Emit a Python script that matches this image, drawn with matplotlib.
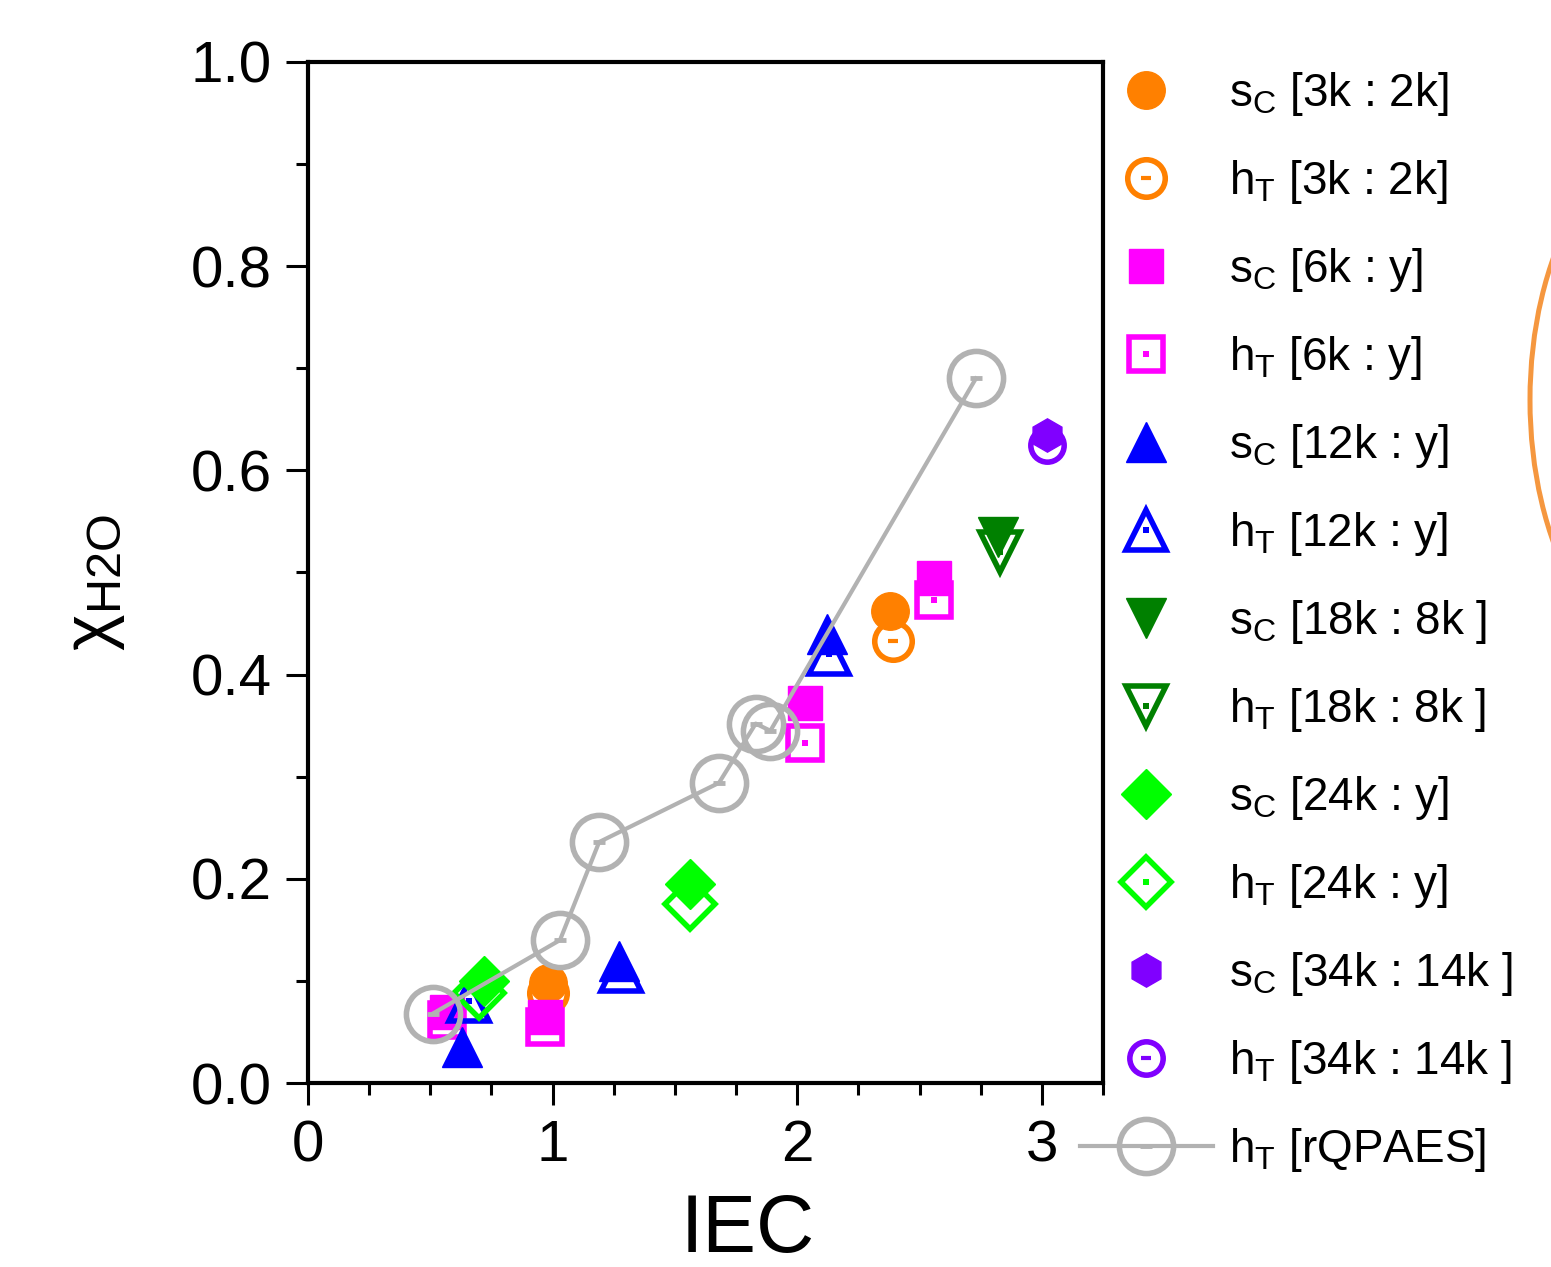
import matplotlib
matplotlib.use("Agg")
import matplotlib.pyplot as plt
from matplotlib.legend_handler import HandlerTuple
from matplotlib.patches import Ellipse

plt.rcParams["font.family"] = ["Liberation Sans", "DejaVu Sans"]
plt.rcParams["mathtext.fontset"] = "custom"
plt.rcParams["mathtext.rm"] = "Liberation Sans"
plt.rcParams["mathtext.it"] = "Liberation Sans:italic"

# data (IEC vs water fraction)
x_sc_3k = [0.98, 2.38]
y_sc_3k = [0.098, 0.462]
x_ht_3k = [0.98, 2.39]
y_ht_3k = [0.088, 0.433]

x_sc_6k = [0.57, 0.97, 2.03, 2.56]
y_sc_6k = [0.070, 0.065, 0.372, 0.495]
x_ht_6k = [0.57, 0.97, 2.03, 2.56]
y_ht_6k = [0.062, 0.055, 0.333, 0.473]

x_sc_12k = [0.63, 1.27, 2.12]
y_sc_12k = [0.035, 0.120, 0.440]
x_ht_12k = [0.66, 1.28, 2.13]
y_ht_12k = [0.080, 0.110, 0.420]

x_sc_18k = [2.82]
y_sc_18k = [0.535]
x_ht_18k = [2.83]
y_ht_18k = [0.520]

x_sc_24k = [0.72, 1.56]
y_sc_24k = [0.100, 0.195]
x_ht_24k = [0.70, 1.56]
y_ht_24k = [0.088, 0.175]

x_sc_34k = [3.02]
y_sc_34k = [0.635]
x_ht_34k = [3.02]
y_ht_34k = [0.625]

x_rq = [0.51, 1.03, 1.19, 1.68, 1.83, 1.89, 2.73]
y_rq = [0.068, 0.140, 0.236, 0.294, 0.352, 0.345, 0.690]

labels = ["[3k : 2k]", "[6k : y]", "[12k : y]", "[18k : 8k ]", "[24k : y]", "[34k : 14k ]"]
colors = ["#FF8000", "#FF00FF", "#0000FF", "#008000", "#00FF00", "#8000FF"]

fig = plt.figure(figsize=(15.51, 12.67), dpi=100)
ax = fig.add_axes([0.1986, 0.1452, 0.5126, 0.8059])

groups = [
    (x_sc_3k, y_sc_3k, x_ht_3k, y_ht_3k, "o", "o", 27),
    (x_sc_6k, y_sc_6k, x_ht_6k, y_ht_6k, "s", "s", 24),
    (x_sc_12k, y_sc_12k, x_ht_12k, y_ht_12k, "^", "^", 29),
    (x_sc_18k, y_sc_18k, x_ht_18k, y_ht_18k, "v", "v", 29),
    (x_sc_24k, y_sc_24k, x_ht_24k, y_ht_24k, "D", "D", 25),
    (x_sc_34k, y_sc_34k, x_ht_34k, y_ht_34k, "h", "o", 24),
]

handles = []
names = []
for (xs, ys, xh, yh, mf, mh, ms), col, lab in zip(groups, colors, labels):
    filled, = ax.plot(xs, ys, ls="none", marker=mf, ms=ms, color=col, mec=col)
    hollow, = ax.plot(xh, yh, ls="none", marker=mh, ms=ms, mfc="none", mec=col, mew=4)
    if mh == "o":
        dot, = ax.plot(xh, yh, ls="none", marker="_", ms=7, mew=3, color=col)
    else:
        dot, = ax.plot(xh, yh, ls="none", marker="s", ms=5, mew=0, color=col)
    handles += [filled, (hollow, dot)]
    names += [r"s$_\mathregular{C}$ " + lab, r"h$_\mathregular{T}$ " + lab]

gray = "#B2B2B2"
rq_line, = ax.plot(x_rq, y_rq, color=gray, lw=3, marker="o", ms=39,
                   mfc="none", mec=gray, mew=4)
rq_dot, = ax.plot(x_rq, y_rq, ls="none", marker="_", ms=9, mew=3.5, color=gray)
handles.append((rq_line, rq_dot))
names.append(r"h$_\mathregular{T}$ [rQPAES]")

ax.set_xlim(0, 3.25)
ax.set_ylim(0, 1.0)
ax.set_xticks([0, 1, 2, 3])
ax.set_xticks([0.25 * i for i in range(14)], minor=True)
ax.set_yticks([0.0, 0.2, 0.4, 0.6, 0.8, 1.0])
ax.set_yticks([0.1 * i for i in range(11)], minor=True)
ax.set_yticklabels(["0.0", "0.2", "0.4", "0.6", "0.8", "1.0"])
ax.tick_params(which="major", direction="out", length=16, width=2.2,
               labelsize=42, pad=10, top=False, right=False)
ax.tick_params(which="minor", direction="out", length=8.5, width=2.2,
               top=False, right=False)
for sp in ax.spines.values():
    sp.set_linewidth(3)

ax.set_xlabel("IEC", fontsize=58)
ax.xaxis.set_label_coords(0.553, -0.108)
ax.set_ylabel(r"χ$_\mathregular{H2O}$", fontsize=50)
ax.yaxis.set_label_coords(-0.228, 0.49)

fig.legend(handles, names, loc="upper left", bbox_to_anchor=(0.6963, 0.945),
           bbox_transform=fig.transFigure, frameon=False, fontsize=33,
           handler_map={tuple: HandlerTuple(ndivide=1)},
           handlelength=2.9, handletextpad=0.35, labelspacing=0.873,
           borderpad=0, borderaxespad=0, numpoints=1)

fig.add_artist(Ellipse((1680 / 1551, 1 - 400 / 1267), 300 / 1551, 530 / 1267,
                       transform=fig.transFigure, fill=False,
                       ec="#F5973F", lw=3.6))

fig.savefig("out.png", dpi=100)
